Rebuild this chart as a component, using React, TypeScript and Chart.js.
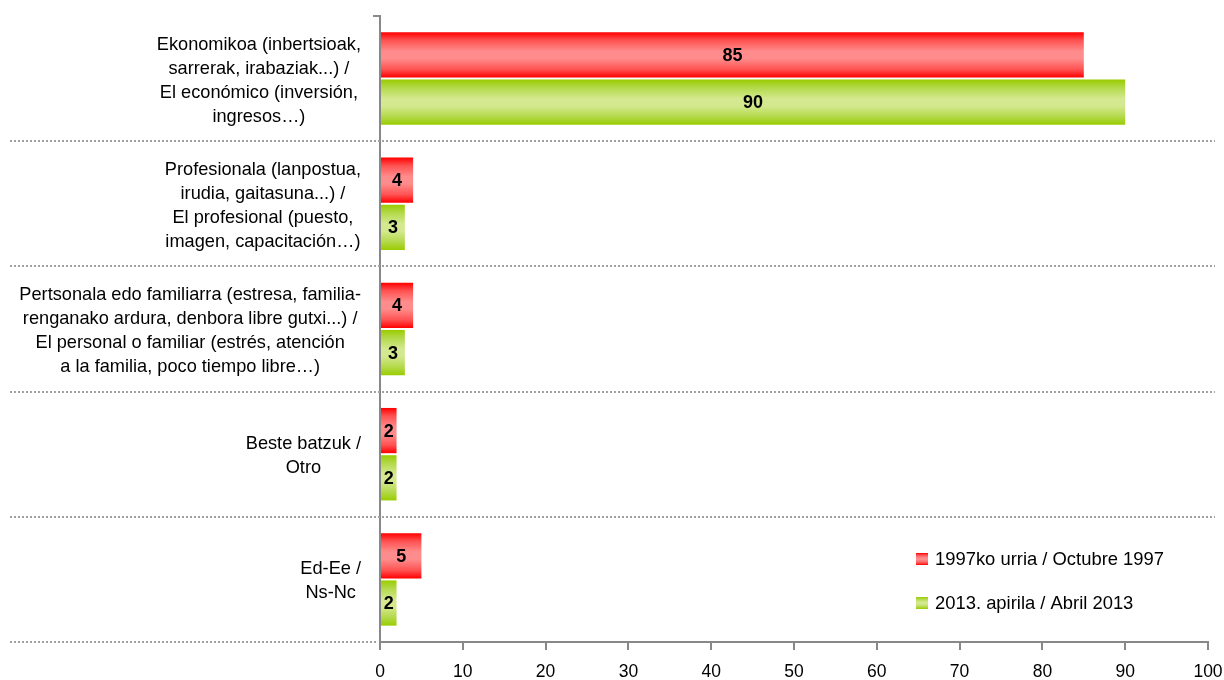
import React, { useEffect, useRef } from "react";
import { Chart, registerables } from "chart.js";

Chart.register(...registerables);

const categories: string[][] = [
  ["Ekonomikoa (inbertsioak,", "sarrerak, irabaziak...) /", "El económico (inversión,", "ingresos…)"],
  ["Profesionala (lanpostua,", "irudia, gaitasuna...) /", "El profesional (puesto,", "imagen, capacitación…)"],
  [
    "Pertsonala edo familiarra (estresa, familia-",
    "renganako ardura, denbora libre gutxi...) /",
    "El personal o familiar (estrés, atención",
    "a la familia, poco tiempo libre…)",
  ],
  ["Beste batzuk /", "Otro"],
  ["Ed-Ee /", "Ns-Nc"],
];
const values1997 = [85, 4, 4, 2, 5];
const values2013 = [90, 3, 3, 2, 2];
const seriesLabels = ["1997ko urria / Octubre 1997", "2013. apirila / Abril 2013"];
const xMin = 0;
const xMax = 100;
const xStep = 10;

const FONT = "'Liberation Sans', Arial, sans-serif";
const palettes = [
  { edge: "#ff0000", mid1: "#ff5252", center: "#ff8c8c" },
  { edge: "#99cc00", mid1: "#b3d94a", center: "#d4e98f" },
];

function makeGradient(ctx: CanvasRenderingContext2D, top: number, bottom: number, idx: number) {
  const p = palettes[idx];
  const g = ctx.createLinearGradient(0, top, 0, bottom);
  g.addColorStop(0, p.edge);
  g.addColorStop(0.18, p.mid1);
  g.addColorStop(0.42, p.center);
  g.addColorStop(0.58, p.center);
  g.addColorStop(0.82, p.mid1);
  g.addColorStop(1, p.edge);
  return g;
}

const decorPlugin = {
  id: "decor",
  beforeDatasetsDraw(chart: any) {
    const ctx: CanvasRenderingContext2D = chart.ctx;
    const area = chart.chartArea;
    const ys = chart.scales.y;
    const n = chart.data.labels.length;
    ctx.save();
    // dotted separators
    ctx.strokeStyle = "#a0a0a0";
    ctx.lineWidth = 2;
    ctx.setLineDash([2, 2]);
    for (let i = 0; i < n; i++) {
      const yy = Math.round(ys.getPixelForValue(i + 0.5));
      ctx.beginPath();
      ctx.moveTo(10, yy);
      ctx.lineTo(i === n - 1 ? area.left - 2 : 1215, yy);
      ctx.stroke();
    }
    ctx.setLineDash([]);
    // top tick mark on the category axis
    ctx.strokeStyle = "#888888";
    const yTop = Math.round(ys.getPixelForValue(-0.5));
    ctx.beginPath();
    ctx.moveTo(area.left - 7, yTop);
    ctx.lineTo(area.left, yTop);
    ctx.stroke();
    ctx.restore();
    // gradients on bars
    chart.data.datasets.forEach((ds: any, di: number) => {
      const meta = chart.getDatasetMeta(di);
      meta.data.forEach((el: any) => {
        const { y, height } = el.getProps(["y", "height"], true);
        el.options = Object.assign({}, el.options, {
          backgroundColor: makeGradient(ctx, y - height / 2, y + height / 2, di),
        });
      });
    });
  },
  afterDraw(chart: any) {
    const ctx: CanvasRenderingContext2D = chart.ctx;
    const area = chart.chartArea;
    const ys = chart.scales.y;
    ctx.save();
    // value labels
    ctx.font = `bold 18px ${FONT}`;
    ctx.fillStyle = "#000";
    ctx.textAlign = "center";
    ctx.textBaseline = "middle";
    chart.data.datasets.forEach((ds: any, di: number) => {
      const meta = chart.getDatasetMeta(di);
      meta.data.forEach((el: any, i: number) => {
        const { x, y, base } = el.getProps(["x", "y", "base"], true);
        ctx.fillText(String(ds.data[i]), (x + base) / 2, y + 1);
      });
    });
    // category labels: block right-aligned, lines centered within block
    ctx.font = `18.2px ${FONT}`;
    const lh = 24;
    const blockRight = 361;
    (chart.data.labels as string[][]).forEach((lines, i) => {
      const cy = ys.getPixelForValue(i);
      let maxW = 0;
      lines.forEach((l) => (maxW = Math.max(maxW, ctx.measureText(l).width)));
      const cx = blockRight - maxW / 2;
      const y0 = cy - ((lines.length - 1) * lh) / 2;
      lines.forEach((l, k) => ctx.fillText(l, cx, y0 + k * lh + 2));
    });
    // legend
    ctx.font = `18.4px ${FONT}`;
    ctx.textAlign = "left";
    const lx = area.right - 292;
    const ly = [area.bottom - 83, area.bottom - 39];
    chart.data.datasets.forEach((ds: any, di: number) => {
      const top = ly[di] - 6;
      ctx.fillStyle = makeGradient(ctx, top, top + 12, di);
      ctx.fillRect(lx, top, 12, 12);
      ctx.fillStyle = "#000";
      ctx.fillText(ds.label, lx + 19, ly[di] + 1);
    });
    ctx.restore();
  },
};

export default function App() {
  const ref = useRef<HTMLCanvasElement | null>(null);
  useEffect(() => {
    if (!ref.current) return;
    const chart = new Chart(ref.current, {
      type: "bar",
      data: {
        labels: categories as any,
        datasets: [
          { label: seriesLabels[0], data: values1997, backgroundColor: () => "#ff6666", borderWidth: 0 },
          { label: seriesLabels[1], data: values2013, backgroundColor: () => "#bbdd55", borderWidth: 0 },
        ],
      },
      options: {
        indexAxis: "y",
        responsive: true,
        maintainAspectRatio: false,
        animation: false,
        events: [],
        layout: { padding: { top: 16, right: 16, left: 0, bottom: 0 } },
        datasets: { bar: { categoryPercentage: 0.755, barPercentage: 0.957 } },
        plugins: { legend: { display: false }, tooltip: { enabled: false } },
        scales: {
          x: {
            min: xMin,
            max: xMax,
            ticks: { stepSize: xStep, font: { family: FONT, size: 17.5 }, color: "#000", padding: 12 },
            grid: { display: true, drawOnChartArea: false, drawTicks: true, tickLength: 8, color: "#888888", lineWidth: 2 },
            border: { display: true, color: "#888888", width: 2 },
            afterFit: (s: any) => {
              s.height = 38;
              s.paddingRight = 0;
              s.paddingLeft = 0;
            },
          },
          y: {
            ticks: { display: false },
            grid: { display: true, drawOnChartArea: false, drawTicks: false },
            border: { display: true, color: "#888888", width: 2 },
            afterFit: (s: any) => {
              s.width = 380;
            },
          },
        },
      } as any,
      plugins: [decorPlugin],
    });
    return () => chart.destroy();
  }, []);
  return (
    <div style={{ position: "fixed", left: 0, top: 0, width: 1224, height: 680, background: "#fff" }}>
      <canvas ref={ref} />
    </div>
  );
}
